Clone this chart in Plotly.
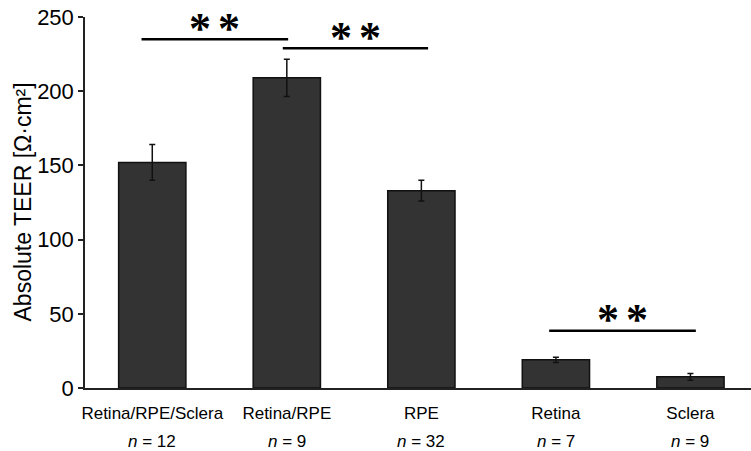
import plotly.graph_objects as go

categories = ["Retina/RPE/Sclera", "Retina/RPE", "RPE", "Retina", "Sclera"]
teer = [152, 209, 133, 19, 7.5]
teer_err = [12, 12.5, 7, 1.8, 2.2]
n_values = [12, 9, 32, 7, 9]

# significance brackets
sig_x0 = [-0.08, 0.97, 2.95]
sig_x1 = [1.01, 2.05, 4.04]
sig_y = [235, 229, 38.5]
sig_stars = [2, 2, 2]

FONT = "Liberation Sans, Arial, Helvetica, sans-serif"

fig = go.Figure()
fig.add_trace(go.Bar(
    x=list(range(len(categories))), y=teer,
    width=0.5,
    marker=dict(color="#333333", line=dict(color="#111111", width=1.5)),
    error_y=dict(type="data", array=teer_err, color="#111111", thickness=1.5, width=3),
))

for x0, x1, y, k in zip(sig_x0, sig_x1, sig_y, sig_stars):
    fig.add_shape(type="line", x0=x0, x1=x1, y0=y, y1=y, xref="x", yref="y",
                  line=dict(color="black", width=2.5))
    for j in range(k):
        fig.add_annotation(x=(x0 + x1) / 2, y=y, xref="x", yref="y", text="<b>*</b>",
                           showarrow=False, yanchor="middle", yshift=11,
                           xshift=(j - (k - 1) / 2) * 29,
                           font=dict(family="Liberation Serif", size=44, color="black"))

for i, n in enumerate(n_values):
    fig.add_annotation(x=i, y=-0.143, xref="x", yref="paper",
                       text=f"<i>n</i> = {n}", showarrow=False, yanchor="middle",
                       font=dict(family=FONT, size=17, color="black"))

# y-axis title
fig.add_annotation(x=0, y=0.5, xref="paper", yref="paper", xshift=-63,
                   text="Absolute TEER [Ω·cm²]", textangle=-90, showarrow=False,
                   xanchor="center", yanchor="middle",
                   font=dict(family=FONT, size=23, color="black"))

fig.update_layout(
    width=751, height=451,
    margin=dict(l=85, r=0, t=17, b=63),
    plot_bgcolor="white", paper_bgcolor="white",
    showlegend=False,
    font=dict(family=FONT, color="black"),
    xaxis=dict(
        tickmode="array", tickvals=list(range(len(categories))), ticktext=categories,
        range=[-0.5, 4.45], showline=True, linecolor="#222222", linewidth=1.5,
        ticks="", tickfont=dict(size=17, family=FONT), ticklabelstandoff=9,
        showgrid=False, zeroline=False, automargin=False,
    ),
    yaxis=dict(
        range=[0, 250], tickvals=[0, 50, 100, 150, 200, 250],
        showline=True, linecolor="#222222", linewidth=1.5,
        ticks="outside", ticklen=5, tickwidth=1.5, tickcolor="#222222",
        tickfont=dict(size=22, family=FONT),
        showgrid=False, zeroline=False, automargin=False,
    ),
)

fig.write_html("out.html", config={"displayModeBar": False},
               post_script="document.body.style.margin='0';document.body.style.overflow='hidden';")
